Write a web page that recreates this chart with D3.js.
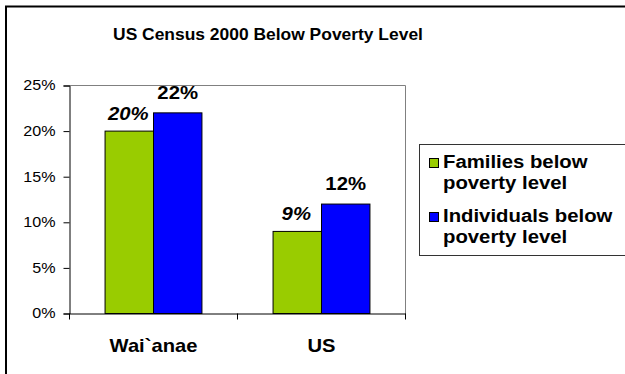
<!DOCTYPE html>
<html>
<head>
<meta charset="utf-8">
<script src="https://cdn.jsdelivr.net/npm/d3@7"></script>
<style>
  body { margin: 0; background: #fff; }
  svg { font-family: "Liberation Sans", Arial, sans-serif; }
</style>
</head>
<body>
<svg id="chart" width="625" height="374"></svg>
<script>
// data
const categories = ["Wai`anae", "US"];
const seriesNames = ["Families below poverty level", "Individuals below poverty level"];
const families = [0.20, 0.09];
const individuals = [0.22, 0.12];
const yTicks = [0, 0.05, 0.10, 0.15, 0.20, 0.25];
const legendLines = [["Families below", "poverty level"], ["Individuals below", "poverty level"]];
const colors = ["#99cc00", "#0000ff"];

const svg = d3.select("#chart");

// the source picture is a bit wider than tall, so text gets stretched sideways
function stretch(sel, sx) {
  sel.each(function () {
    const t = d3.select(this);
    t.attr("x", (+t.attr("x") || 0) / sx).attr("transform", `scale(${sx},1)`);
    t.selectAll("tspan").each(function () {
      const s = d3.select(this);
      if (s.attr("x") != null) s.attr("x", +s.attr("x") / sx);
    });
  });
}

// outer frame (cropped at right and bottom)
svg.append("path")
  .attr("d", "M6,374 V6.5 H625")
  .attr("fill", "none").attr("stroke", "#000").attr("stroke-width", 2);

svg.append("text")
  .attr("x", 268).attr("y", 40.5)
  .attr("text-anchor", "middle")
  .attr("font-size", 16).attr("font-weight", "bold")
  .text("US Census 2000 Below Poverty Level")
  .call(stretch, 1.09);

const plotL = 69.5, plotR = 405.5, plotT = 85.5, plotB = 313.5;

const y = d3.scaleLinear().domain([0, 0.25]).range([plotB, plotT]);
const x0 = d3.scaleBand().domain(categories).range([plotL, plotR]);
const x1 = d3.scaleBand().domain(seriesNames).range([0, x0.bandwidth()]).paddingOuter(0.734);

// plot area frame, gray on top and right
svg.append("path")
  .attr("d", `M${plotL},${plotT} H${plotR} V${plotB}`)
  .attr("fill", "none").attr("stroke", "#808080");

const data = categories.map((c, i) => ({ cat: c, vals: [families[i], individuals[i]] }));

const groups = svg.selectAll("g.cat").data(data).join("g")
  .attr("class", "cat")
  .attr("transform", d => `translate(${x0(d.cat)},0)`);

groups.selectAll("rect")
  .data(d => d.vals.map((v, j) => ({ name: seriesNames[j], v: v, j: j })))
  .join("rect")
  .attr("x", d => x1(d.name))
  .attr("y", d => y(d.v))
  .attr("width", x1.bandwidth())
  .attr("height", d => plotB - y(d.v))
  .attr("fill", d => colors[d.j])
  .attr("stroke", "#000").attr("stroke-width", 1);

groups.selectAll("text.val")
  .data(d => d.vals.map((v, j) => ({ name: seriesNames[j], v: v, j: j })))
  .join("text")
  .attr("class", "val")
  .attr("x", d => x1(d.name) + x1.bandwidth() / 2 - (d.j === 0 ? 1 : 0))
  .attr("y", d => y(d.v) - (d.j === 0 ? 11.5 : 14))
  .attr("text-anchor", "middle")
  .attr("font-size", 18).attr("font-weight", "bold")
  .attr("font-style", d => d.j === 0 ? "italic" : "normal")
  .text(d => d3.format(".0%")(d.v))
  .call(stretch, 1.13);

// y axis
const yAxis = svg.append("g")
  .attr("transform", `translate(${plotL},0)`)
  .call(d3.axisLeft(y).tickValues(yTicks).tickFormat(d3.format(".0%")).tickSize(6).tickPadding(8));
yAxis.selectAll("text").attr("font-size", 14).attr("fill", "#000")
  .attr("font-family", "Liberation Sans, Arial, sans-serif")
  .call(stretch, 1.15);
yAxis.selectAll("line, path").attr("stroke", "#000");

// x axis: boundary ticks and category labels
const xAxis = svg.append("g")
  .attr("transform", `translate(0,${plotB})`)
  .call(d3.axisBottom(x0).tickSize(0).tickPadding(26));
xAxis.select("path").attr("stroke", "#000");
xAxis.selectAll("text").attr("font-size", 18).attr("font-weight", "bold").attr("fill", "#000")
  .attr("font-family", "Liberation Sans, Arial, sans-serif")
  .call(stretch, 1.12);
const bounds = [...categories.map(c => x0(c)), plotR];
svg.append("g").selectAll("line").data(bounds).join("line")
  .attr("x1", d => d).attr("x2", d => d)
  .attr("y1", plotB).attr("y2", plotB + 6)
  .attr("stroke", "#000");

// legend
const legend = svg.append("g");
legend.append("rect")
  .attr("x", 419.5).attr("y", 144.5).attr("width", 210).attr("height", 111)
  .attr("fill", "#fff").attr("stroke", "#333");
const items = legend.selectAll("g.item").data(legendLines).join("g")
  .attr("class", "item")
  .attr("transform", (d, i) => `translate(0,${i * 54})`);
items.append("rect")
  .attr("x", 429.5).attr("y", 158.5).attr("width", 9).attr("height", 9)
  .attr("fill", (d, i) => colors[i]).attr("stroke", "#000");
items.append("text")
  .attr("x", 443).attr("y", 168)
  .attr("font-size", 18).attr("font-weight", "bold")
  .call(t => t.selectAll("tspan").data(d => d).join("tspan")
    .attr("x", 443).attr("dy", (d, k) => k === 0 ? 0 : 21.5)
    .text(d => d))
  .call(stretch, 1.13);
</script>
</body>
</html>
